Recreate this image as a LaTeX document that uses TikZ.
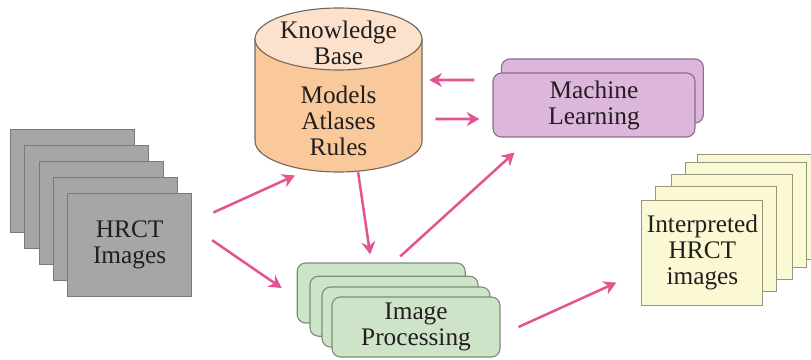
\documentclass[tikz,border=0pt]{standalone}
\usepackage{fontspec}
\setmainfont{Liberation Serif}
\usepackage{tikz}
\usetikzlibrary{arrows.meta, positioning, calc}
\definecolor{mytext}{RGB}{35,30,30}
\definecolor{mypink}{RGB}{226,84,146}
\definecolor{ctgray}{RGB}{166,166,166}
\definecolor{ctedge}{RGB}{122,122,122}
\definecolor{kbbody}{RGB}{249,201,156}
\definecolor{kbtop}{RGB}{252,226,204}
\definecolor{kbedge}{RGB}{118,104,92}
\definecolor{mlfill}{RGB}{220,182,220}
\definecolor{mledge}{RGB}{136,110,136}
\definecolor{ipfill}{RGB}{206,228,200}
\definecolor{ipedge}{RGB}{122,142,118}
\definecolor{infill}{RGB}{251,248,212}
\definecolor{inedge}{RGB}{150,150,128}
\tikzset{
  ctsheet/.style={rectangle, draw=ctedge, fill=ctgray,
    minimum width=3.1cm, minimum height=2.575cm, line width=0.8pt,
    text=mytext, align=center, font=\fontsize{18}{18.5}\selectfont},
  insheet/.style={rectangle, draw=inedge, fill=infill,
    minimum width=3.025cm, minimum height=2.625cm, line width=0.8pt,
    text=mytext, align=center, font=\fontsize{18}{18.5}\selectfont},
  mlbox/.style={rectangle, draw=mledge, fill=mlfill, rounded corners=6pt,
    minimum width=5.05cm, minimum height=1.6cm, line width=0.8pt,
    text=mytext, align=center, font=\fontsize{18}{18.5}\selectfont},
  ipbox/.style={rectangle, draw=ipedge, fill=ipfill, rounded corners=6pt,
    minimum width=4.2cm, minimum height=1.5cm, line width=0.8pt,
    text=mytext, align=center, font=\fontsize{18}{18.5}\selectfont},
  kbtext/.style={text=mytext, align=center, font=\fontsize{18}{18.5}\selectfont},
  arrow/.style={-{Stealth[length=9pt, width=10pt]}, line width=1.8pt, color=mypink}
}

\begin{document}
\begin{tikzpicture}
  \useasboundingbox (0,0) rectangle (20.275,8.975);

  % --- HRCT stack ---
  \node[ctsheet] (CT1) at (1.81,4.44) {};
  \node[ctsheet] (CT2) at (2.17,4.05) {};
  \node[ctsheet] (CT3) at (2.53,3.65) {};
  \node[ctsheet] (CT4) at (2.88,3.26) {};
  \node[ctsheet] (CT5) at (3.24,2.86) {HRCT\\Images};

  % --- Knowledge base cylinder ---
  \node[minimum width=4.175cm, minimum height=4.1cm, inner sep=0pt] (KB) at (8.4625,6.725) {};
  \draw[draw=kbedge, fill=kbbody, line width=0.8pt] (6.375,8.0) -- (6.375,5.45)
    arc[start angle=180, end angle=360, x radius=2.0875cm, y radius=0.775cm] -- (10.55,8.0) -- cycle;
  \draw[draw=kbedge, fill=kbtop, line width=0.8pt] (8.4625,8.0) ellipse [x radius=2.0875cm, y radius=0.775cm];
  \node[kbtext] (KBtop) at (8.4625,7.9) {Knowledge\\Base};
  \node[kbtext] (KBbody) at (8.4625,5.95) {Models\\Atlases\\Rules};

  % --- Machine learning ---
  \node[mlbox] (ML1) at (15.06,6.7) {};
  \node[mlbox] (ML2) at (14.85,6.35) {Machine\\Learning};

  % --- Image processing ---
  \node[ipbox] (IP1) at (9.53,1.65) {};
  \node[ipbox] (IP2) at (9.85,1.32) {};
  \node[ipbox] (IP3) at (10.15,1.05) {};
  \node[ipbox] (IP4) at (10.4,0.8) {Image\\Processing};

  % --- Interpreted stack ---
  \node[insheet] (IN1) at (18.94,3.81) {};
  \node[insheet] (IN2) at (18.64,3.59) {};
  \node[insheet] (IN3) at (18.31,3.29) {};
  \node[insheet] (IN4) at (17.89,3.01) {};
  \node[insheet] (IN5) at (17.56,2.66) {Interpreted\\HRCT\\images};

  % --- Arrows ---
  \draw[arrow] ([xshift=0.53cm, yshift=-0.5cm]CT5.north east) -- ([xshift=-1.09cm, yshift=-0.08cm]KB.south);
  \draw[arrow] ([xshift=0.5cm, yshift=0.11cm]CT5.east) -- ([xshift=-0.375cm, yshift=0.125cm]IP1.west);
  \draw[arrow] ([xshift=0.49cm]KB.south) -- ([xshift=-0.275cm, yshift=0.2cm]IP1.north);
  \draw[arrow] ([xshift=0.475cm, yshift=0.15cm]IP1.north) -- ([xshift=0.55cm, yshift=-0.375cm]ML2.south west);
  \draw[arrow] ([xshift=0.45cm]IP4.east) -- ([xshift=-0.625cm, yshift=0.575cm]IN5.south west);
  \draw[arrow] ([xshift=-0.45cm, yshift=0.625cm]ML2.west) -- ([xshift=0.175cm, yshift=0.25cm]KB.east);
  \draw[arrow] ([xshift=0.325cm, yshift=-0.725cm]KB.east) -- ([xshift=-0.325cm, yshift=-0.35cm]ML2.west);
\end{tikzpicture}
\end{document}
